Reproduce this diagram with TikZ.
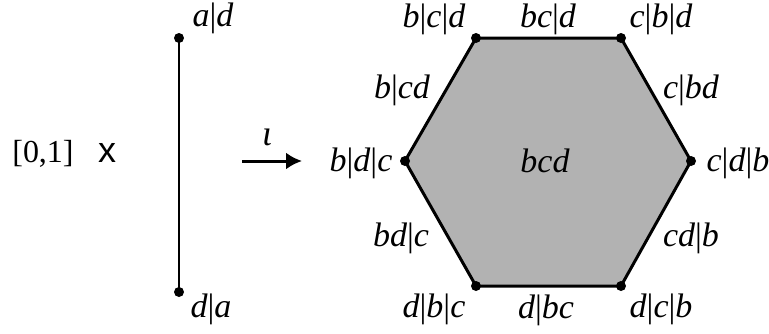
\documentclass[tikz,border=0pt]{standalone}
\usepackage{fontspec}
\usetikzlibrary{arrows.meta}
\setmainfont{Liberation Serif}
\newfontfamily\sansx{Liberation Sans}
\begin{document}
\begin{tikzpicture}[x=1pt,y=-1pt,
  lab/.style={inner sep=0pt,anchor=base,font=\fontsize{34}{40}\selectfont},
  vdot/.style={circle,fill=black,inner sep=0pt,minimum size=10pt},
  edge/.style={line width=3pt}]
\useasboundingbox (0,0) rectangle (769,333);
% segment
\node[vdot] (s1) at (179,38) {};
\node[vdot] (s2) at (179,292) {};
\draw[line width=2.4pt] (s1.center) -- (s2.center);
\node[lab] (lad) at (213,26) {\textit{a}|\textit{d}};
\node[lab] (lda) at (211,317) {\textit{d}|\textit{a}};
\node[lab,font=\fontsize{32}{36}\selectfont] (int) at (43,162) {[0,1]};
\node[lab,font=\fontsize{36}{40}\sansx] (times) at (107,162) {x};
% arrow
\coordinate (a1) at (242,161);
\coordinate (a2) at (302,161);
\draw[line width=3pt,-{Latex[length=16pt,width=17pt]}] (a1) -- (a2);
\node[lab,font=\fontsize{36}{40}\selectfont] (iota) at (267,145) {\textit{ι}};
% hexagon
\coordinate (v1) at (476,38);
\coordinate (v2) at (621,38);
\coordinate (v3) at (691,161);
\coordinate (v4) at (621,286);
\coordinate (v5) at (476,286);
\coordinate (v6) at (405,161);
\filldraw[fill=black!30,edge,line join=round] (v1) -- (v2) -- (v3) -- (v4) -- (v5) -- (v6) -- cycle;
\foreach \v in {v1,v2,v3,v4,v5,v6} \node[vdot] at (\v) {};
\node[lab] (l1) at (434,27) {\textit{b}|\textit{c}|\textit{d}};
\node[lab] (l2) at (548,27) {\textit{bc}|\textit{d}};
\node[lab] (l3) at (661,27) {\textit{c}|\textit{b}|\textit{d}};
\node[lab] (l4) at (402,98) {\textit{b}|\textit{cd}};
\node[lab] (l5) at (691,98) {\textit{c}|\textit{bd}};
\node[lab] (l6) at (361,171) {\textit{b}|\textit{d}|\textit{c}};
\node[lab] (l7) at (545,172) {\textit{bcd}};
\node[lab] (l8) at (738,171) {\textit{c}|\textit{d}|\textit{b}};
\node[lab] (l9) at (401,246) {\textit{bd}|\textit{c}};
\node[lab] (l10) at (691,246) {\textit{cd}|\textit{b}};
\node[lab] (l11) at (434,317) {\textit{d}|\textit{b}|\textit{c}};
\node[lab] (l12) at (546,318) {\textit{d}|\textit{bc}};
\node[lab] (l13) at (661,317) {\textit{d}|\textit{c}|\textit{b}};
\end{tikzpicture}
\end{document}
